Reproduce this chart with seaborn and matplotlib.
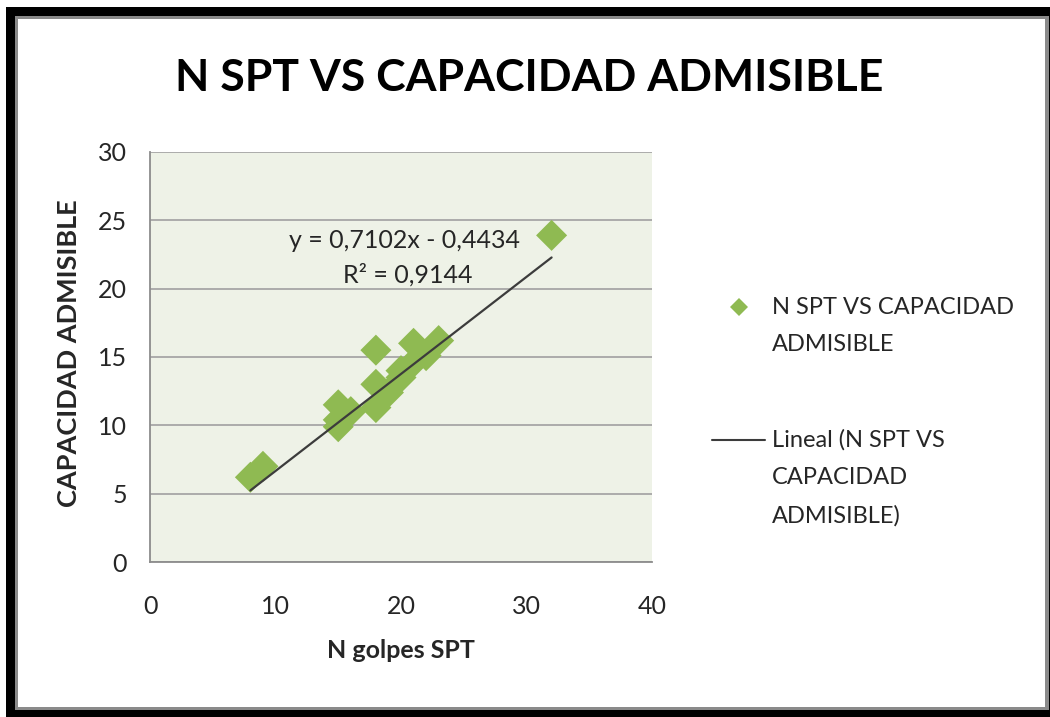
import matplotlib
matplotlib.use("Agg")
import matplotlib.pyplot as plt
import seaborn as sns
import numpy as np
import pandas as pd
from matplotlib.patches import Rectangle
from matplotlib.lines import Line2D
from matplotlib.legend_handler import HandlerLine2D

# ---- data ----
n_golpes = [8, 9, 15, 15, 15, 16, 18, 18, 18, 19, 20, 20, 21, 21, 22, 23, 32]
capacidad = [6.2, 7.0, 11.5, 10.4, 9.9, 11.0, 15.5, 13.0, 11.3, 12.4, 13.5, 14.0, 16.0, 14.6, 15.1, 16.2, 23.9]
slope = 0.7102
intercept = -0.4434
r2 = 0.9144
x_ticks = [0, 10, 20, 30, 40]
y_ticks = [0, 5, 10, 15, 20, 25, 30]
title = "N SPT VS CAPACIDAD ADMISIBLE"
x_label = "N golpes SPT"
y_label = "CAPACIDAD ADMISIBLE"
series_label = "N SPT VS CAPACIDAD\nADMISIBLE"
trend_label = "Lineal (N SPT VS\nCAPACIDAD\nADMISIBLE)"

GREEN = "#8FBA52"
LINE = "#3C3C3C"
GRID = "#A6A6A6"
TEXT = "#262626"

sns.set_theme(style="white")
plt.rcParams['font.family'] = ['Lato', 'DejaVu Sans']

W, H = 1050, 717
fig = plt.figure(figsize=(W / 100, H / 100), dpi=100)
fig.patch.set_facecolor("white")

# outer frame (black shadowed border)
fig.patches.append(Rectangle((6 / W, 0), (W - 6) / W, 710 / H, transform=fig.transFigure,
                             facecolor="black", edgecolor="none", zorder=-30))
fig.patches.append(Rectangle((15 / W, (H - 710) / H), (1049 - 15) / W, (710 - 16) / H,
                             transform=fig.transFigure, facecolor="#8A8A8A", edgecolor="none", zorder=-20))
fig.patches.append(Rectangle((18 / W, (H - 707) / H), (1045 - 18) / W, (707 - 19) / H,
                             transform=fig.transFigure, facecolor="white", edgecolor="none", zorder=-10))

ax = fig.add_axes([150 / W, (H - 562) / H, 502 / W, 410 / H])
ax.set_zorder(1)
ax.set_facecolor("#EEF2E7")

df = pd.DataFrame({"x": n_golpes, "y": capacidad})
sns.scatterplot(data=df, x="x", y="y", marker="D", s=250, color=GREEN,
                edgecolor="none", linewidth=0, ax=ax, zorder=3, legend=False)

xs = np.array([min(n_golpes), max(n_golpes)], dtype=float)
trend = pd.DataFrame({"x": xs, "y": slope * xs + intercept})
sns.lineplot(data=trend, x="x", y="y", color=LINE, lw=1.6, ax=ax, zorder=4, legend=False)

ax.set_xlim(x_ticks[0], x_ticks[-1])
ax.set_ylim(y_ticks[0], y_ticks[-1])
ax.set_xticks(x_ticks)
ax.set_yticks(y_ticks)
ax.yaxis.grid(True, color=GRID, lw=1.3, zorder=1)
ax.xaxis.grid(False)
ax.set_axisbelow(True)
for s in ["top", "right"]:
    ax.spines[s].set_visible(False)
for s in ["left", "bottom"]:
    ax.spines[s].set_color("#8C8C8C")
    ax.spines[s].set_linewidth(1.3)
ax.tick_params(axis="both", direction="out", length=6.5, width=1.3, color="#8C8C8C",
               labelsize=18, labelcolor=TEXT)
ax.tick_params(axis="y", pad=10)
ax.tick_params(axis="x", pad=17)
ax.set_xlabel(x_label, fontsize=18, fontweight="bold", color=TEXT)
ax.set_ylabel(y_label, fontsize=19.5, fontweight="bold", color=TEXT)
ax.xaxis.set_label_coords(0.5, (562 - 650) / 410)
ax.xaxis.label.set_va("center")
ax.yaxis.set_label_coords((69 - 150) / 502, 0.51)
ax.yaxis.label.set_va("center")

eq = f"y = {slope:.4f}x - {abs(intercept):.4f}".replace(".", ",")
r2txt = f"R² = {r2:.4f}".replace(".", ",")
ax.text(20.3, 23.55, eq, ha="center", va="center", fontsize=18, color=TEXT)
ax.text(20.5, 21.0, r2txt, ha="center", va="center", fontsize=18, color=TEXT)

fig.text(529 / W, 1 - 78 / H, title, ha="center", va="center", fontsize=32,
         fontweight="bold", color="black")


class ShiftedHandler(HandlerLine2D):
    def __init__(self, shift, **kw):
        super().__init__(**kw)
        self.shift = shift

    def create_artists(self, legend, orig_handle, xdescent, ydescent, width, height,
                       fontsize, trans):
        return super().create_artists(legend, orig_handle, xdescent, ydescent - 2 * self.shift,
                                      width, height, fontsize, trans)


h_pts = Line2D([], [], marker="D", ls="none", color=GREEN, markersize=9, markeredgewidth=0)
h_line = Line2D([], [], color=LINE, lw=1.5)
fs = 17
leg = fig.legend([h_pts, h_line], [series_label, trend_label], loc="upper left",
                 bbox_to_anchor=(712 / W, 1 - 297 / H), frameon=False, fontsize=fs,
                 handlelength=2.25, handletextpad=0.3, borderpad=0, borderaxespad=0,
                 labelspacing=3.15, numpoints=1,
                 handler_map={h_pts: ShiftedHandler(13.7), h_line: ShiftedHandler(27.4)})
for t in leg.get_texts():
    t.set_linespacing(1.95)
    t.set_color(TEXT)

fig.savefig("out.png", dpi=100)
